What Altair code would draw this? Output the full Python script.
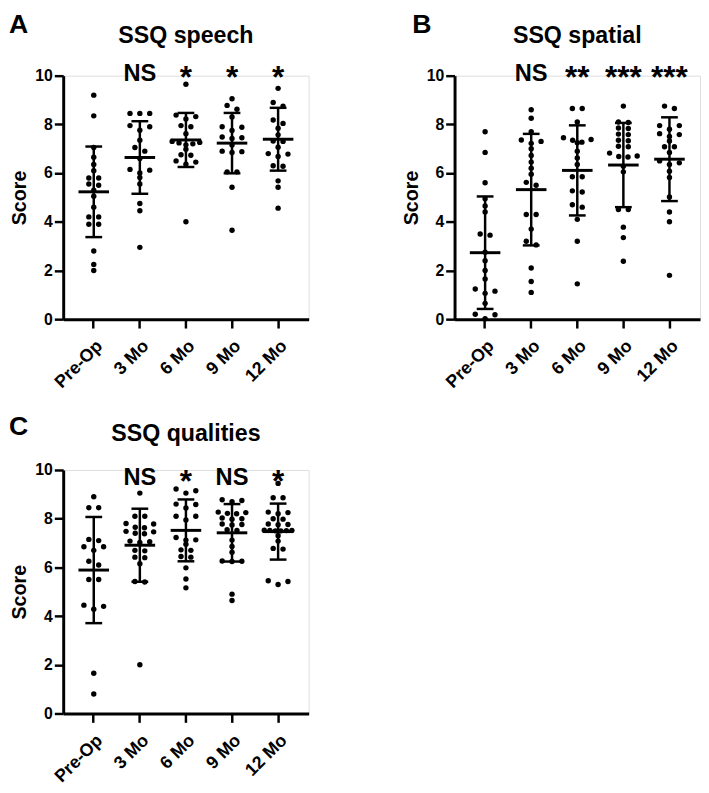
import altair as alt
import pandas as pd

GROUPS = ["Pre-Op", "3 Mo", "6 Mo", "9 Mo", "12 Mo"]

# ---- Panel A: SSQ speech ----
SPEECH_PRE_OP = [9.2, 8.35, 7.05, 6.65, 6.35, 6.1, 5.8, 5.8, 5.55, 5.5, 5.3, 5.05, 4.6, 4.2, 4.2, 3.9, 3.9, 2.8, 2.25, 2.0]
SPEECH_3MO = [8.45, 8.45, 8.45, 7.95, 7.9, 7.76, 7.35, 7.05, 6.9, 6.6, 6.15, 6.12, 6.0, 5.82, 5.55, 4.75, 4.45, 2.95]
SPEECH_6MO = [9.65, 8.38, 8.32, 8.22, 7.95, 7.9, 7.62, 7.3, 7.26, 7.24, 7.2, 7.16, 6.98, 6.75, 6.73, 6.5, 6.45, 6.36, 4.0]
SPEECH_9MO = [9.05, 8.78, 8.62, 8.3, 7.9, 7.88, 7.75, 7.48, 7.45, 7.42, 7.15, 6.9, 6.88, 6.85, 6.05, 6.05, 5.42, 3.65]
SPEECH_12MO = [9.48, 8.9, 8.75, 8.18, 8.04, 7.84, 7.57, 7.32, 7.3, 7.06, 6.8, 6.78, 6.68, 6.3, 6.28, 5.68, 5.42, 4.56]
SPEECH_MEAN = [5.23, 6.64, 7.36, 7.23, 7.39]
SPEECH_SD = [1.86, 1.49, 1.11, 1.24, 1.29]
SPEECH_SIG = ["", "NS", "*", "*", "*"]

# ---- Panel B: SSQ spatial ----
SPATIAL_PRE_OP = [7.7, 6.85, 5.6, 4.95, 4.65, 4.4, 3.5, 3.45, 2.75, 2.4, 2.0, 1.65, 1.24, 1.15, 1.06, 0.65, 0.2, 0.18, 0.02]
SPATIAL_3MO = [8.6, 8.25, 7.7, 7.36, 7.3, 7.22, 7.0, 6.72, 6.45, 6.2, 5.95, 5.62, 5.5, 4.3, 4.3, 3.7, 3.2, 3.05, 2.1, 1.55, 1.1]
SPATIAL_6MO = [8.65, 8.65, 8.1, 7.45, 7.38, 7.35, 7.27, 7.25, 6.9, 6.62, 6.35, 5.85, 5.85, 5.27, 5.22, 4.7, 4.6, 4.1, 3.2, 1.45]
SPATIAL_9MO = [8.75, 8.1, 8.08, 7.85, 7.83, 7.6, 7.58, 7.35, 7.33, 7.1, 7.08, 6.82, 6.7, 6.68, 6.66, 6.28, 6.05, 4.5, 4.5, 3.78, 3.35, 2.38]
SPATIAL_12MO = [8.75, 8.65, 7.95, 7.95, 7.8, 7.62, 7.58, 7.5, 7.32, 7.08, 7.08, 6.85, 6.5, 6.42, 6.35, 6.08, 5.82, 5.02, 4.4, 4.0, 1.8]
SPATIAL_MEAN = [2.73, 5.32, 6.11, 6.33, 6.57]
SPATIAL_SD = [2.31, 2.29, 1.85, 1.73, 1.72]
SPATIAL_SIG = ["", "NS", "**", "***", "***"]

# ---- Panel C: SSQ qualities ----
QUAL_PRE_OP = [8.9, 8.45, 8.45, 7.15, 7.1, 6.85, 6.85, 6.7, 6.25, 6.1, 5.5, 5.5, 4.45, 4.4, 4.28, 1.65, 0.8]
QUAL_3MO = [9.05, 8.1, 8.1, 7.8, 7.78, 7.65, 7.63, 7.48, 7.46, 7.4, 7.38, 7.08, 7.05, 7.02, 6.7, 6.68, 6.42, 6.4, 6.15, 5.42, 5.4, 2.0]
QUAL_6MO = [9.22, 9.15, 9.05, 8.6, 8.58, 8.44, 8.1, 8.1, 7.95, 7.23, 7.13, 7.12, 6.95, 6.72, 6.7, 6.45, 6.42, 5.98, 5.52, 5.16]
QUAL_9MO = [8.78, 8.75, 8.7, 8.27, 8.25, 8.22, 8.2, 8.03, 8.0, 7.98, 7.78, 7.76, 7.74, 7.55, 7.52, 7.12, 6.86, 6.62, 6.26, 6.25, 6.24, 4.9, 4.64]
QUAL_12MO = [9.45, 8.86, 8.86, 8.27, 8.25, 8.2, 8.0, 7.98, 7.78, 7.76, 7.75, 7.53, 7.52, 7.52, 7.51, 7.5, 7.5, 7.3, 7.08, 6.78, 6.75, 5.45, 5.42, 5.3]
QUAL_MEAN = [5.89, 6.91, 7.52, 7.42, 7.47]
QUAL_SD = [2.18, 1.5, 1.27, 1.18, 1.15]
QUAL_SIG = ["", "NS", "*", "NS", "*"]

# ---- layout / style ----
FONT = "Liberation Sans"
PLOT_W, PLOT_H = 249, 247
Y_MAX = 10
PX_PER_UNIT = PLOT_H / Y_MAX
DOT_PX = 4.9          # dots closer than this (vertically) share a row
ROW_STEP_PX = 10.0    # horizontal spacing of dots in a row
ROW_MAX_SPAN = 28.0   # widest row
OUTER_PAD = 0.163
STEP = PLOT_W / (len(GROUPS) + 2 * OUTER_PAD)


def swarm(values):
    """Prism-like scatter layout: group near-equal values in rows, centre each row."""
    thr = DOT_PX / PX_PER_UNIT
    rows = []
    for v in sorted(values, reverse=True):
        if rows and rows[-1][0] - v < thr:
            rows[-1].append(v)
        else:
            rows.append([v])
    out = []
    for row in rows:
        k = len(row)
        sp = min(ROW_STEP_PX, ROW_MAX_SPAN / (k - 1)) if k > 1 else 0.0
        slots = [(i - (k - 1) / 2) * sp for i in range(k)]
        order = []
        lo, hi = 0, k - 1
        while lo <= hi:
            order.append(lo)
            if hi != lo:
                order.append(hi)
            lo += 1
            hi -= 1
        for v, s in zip(row, order):
            out.append((v, slots[s]))
    return out


X_SCALE = alt.Scale(type="band", domain=GROUPS, paddingInner=0, paddingOuter=OUTER_PAD)
Y_SCALE = alt.Scale(domain=[0, Y_MAX], nice=False, zero=True)

X_AXIS = alt.Axis(
    title=None, labelAngle=-45, labelFont=FONT, labelFontSize=18, labelFontWeight="bold",
    labelColor="black", tickSize=9, tickWidth=2.5, tickColor="black",
    domainWidth=3, domainColor="black", labelPadding=9, grid=False,
)
Y_AXIS = alt.Axis(
    title="Score", values=[0, 2, 4, 6, 8, 10], labelFont=FONT, labelFontSize=16,
    labelFontWeight="bold", labelColor="black", tickSize=9, tickWidth=2.5,
    tickColor="black", domainWidth=3, domainColor="black", labelPadding=2,
    titleFont=FONT, titleFontSize=20, titleFontWeight="bold", titleColor="black",
    titlePadding=5, grid=False,
)

LAYOUT = {
    "A": dict(letter_dx=-55, letter_dy=-43, title_dy=-32.7, sig_y=9.77),
    "B": dict(letter_dx=-43, letter_dy=-43, title_dy=-32.7, sig_y=9.77),
    "C": dict(letter_dx=-55, letter_dy=-36, title_dy=-29.6, sig_y=9.37),
}
STAR_DY = 7


def panel(letter, title, groups_values, mean, sd, sig):
    lay = LAYOUT[letter]
    rows = []
    for g, vals in zip(GROUPS, groups_values):
        for v, off in swarm(vals):
            rows.append({"group": g, "score": v, "offset": off})
    pts = pd.DataFrame(rows)
    stats = pd.DataFrame({"group": GROUPS, "mean": mean, "sd": sd, "sig": sig})

    x = alt.X("group:N", sort=GROUPS, scale=X_SCALE, axis=X_AXIS)

    dots = alt.Chart(pts).mark_circle(size=30, color="black", opacity=1).encode(
        x=x,
        xOffset=alt.XOffset("offset:Q", scale=alt.Scale(domain=[-STEP / 2, STEP / 2])),
        y=alt.Y("score:Q", scale=Y_SCALE, axis=Y_AXIS),
    )
    base = alt.Chart(stats).transform_calculate(
        lo="datum.mean - datum.sd", hi="datum.mean + datum.sd"
    )
    rule = base.mark_rule(color="black", strokeWidth=2.5).encode(
        x=x, y=alt.Y("lo:Q", scale=Y_SCALE, axis=Y_AXIS), y2="hi:Q"
    )
    mean_tick = base.mark_tick(orient="horizontal", size=31, thickness=3, color="black", opacity=1).encode(
        x=x, y=alt.Y("mean:Q", scale=Y_SCALE, axis=Y_AXIS)
    )
    cap_lo = base.mark_tick(orient="horizontal", size=17, thickness=2.5, color="black", opacity=1).encode(
        x=x, y=alt.Y("lo:Q", scale=Y_SCALE, axis=Y_AXIS)
    )
    cap_hi = base.mark_tick(orient="horizontal", size=17, thickness=2.5, color="black", opacity=1).encode(
        x=x, y=alt.Y("hi:Q", scale=Y_SCALE, axis=Y_AXIS)
    )
    sig_ns = alt.Chart(stats).transform_filter("datum.sig == 'NS'").mark_text(
        font=FONT, fontSize=24, fontWeight="bold", color="black", baseline="alphabetic", align="center"
    ).encode(x=x, y=alt.datum(lay["sig_y"]), text="sig:N")
    sig_star = alt.Chart(stats).transform_filter("indexof(datum.sig, '*') >= 0").mark_text(
        font=FONT, fontSize=32, fontWeight="bold", color="black", baseline="alphabetic", align="center",
        dy=STAR_DY,
    ).encode(x=x, y=alt.datum(lay["sig_y"]), text="sig:N")

    head = pd.DataFrame({"letter": [letter], "title": [title]})
    title_text = alt.Chart(head).mark_text(
        font=FONT, fontSize=23.5, fontWeight="bold", color="black", baseline="alphabetic", align="center"
    ).encode(x=alt.value(PLOT_W / 2), y=alt.value(lay["title_dy"]), text="title:N")
    letter_text = alt.Chart(head).mark_text(
        font=FONT, fontSize=27, fontWeight="bold", color="black", baseline="alphabetic", align="left"
    ).encode(x=alt.value(lay["letter_dx"]), y=alt.value(lay["letter_dy"]), text="letter:N")

    return alt.layer(rule, mean_tick, cap_lo, cap_hi, dots, sig_ns, sig_star, title_text, letter_text).properties(
        width=PLOT_W, height=PLOT_H
    )


pa = panel("A", "SSQ speech",
           [SPEECH_PRE_OP, SPEECH_3MO, SPEECH_6MO, SPEECH_9MO, SPEECH_12MO],
           SPEECH_MEAN, SPEECH_SD, SPEECH_SIG)
pb = panel("B", "SSQ spatial",
           [SPATIAL_PRE_OP, SPATIAL_3MO, SPATIAL_6MO, SPATIAL_9MO, SPATIAL_12MO],
           SPATIAL_MEAN, SPATIAL_SD, SPATIAL_SIG)
pc = panel("C", "SSQ qualities",
           [QUAL_PRE_OP, QUAL_3MO, QUAL_6MO, QUAL_9MO, QUAL_12MO],
           QUAL_MEAN, QUAL_SD, QUAL_SIG)

chart = alt.concat(
    pa, pb, pc, columns=2, spacing={"row": 153, "column": 148}, bounds="flush"
).properties(
    padding={"top": -3, "left": 0, "right": 0, "bottom": 0}
).configure_view(stroke=None).configure(font=FONT)

chart.save("out.html", embed_options={"renderer": "svg", "actions": False})
